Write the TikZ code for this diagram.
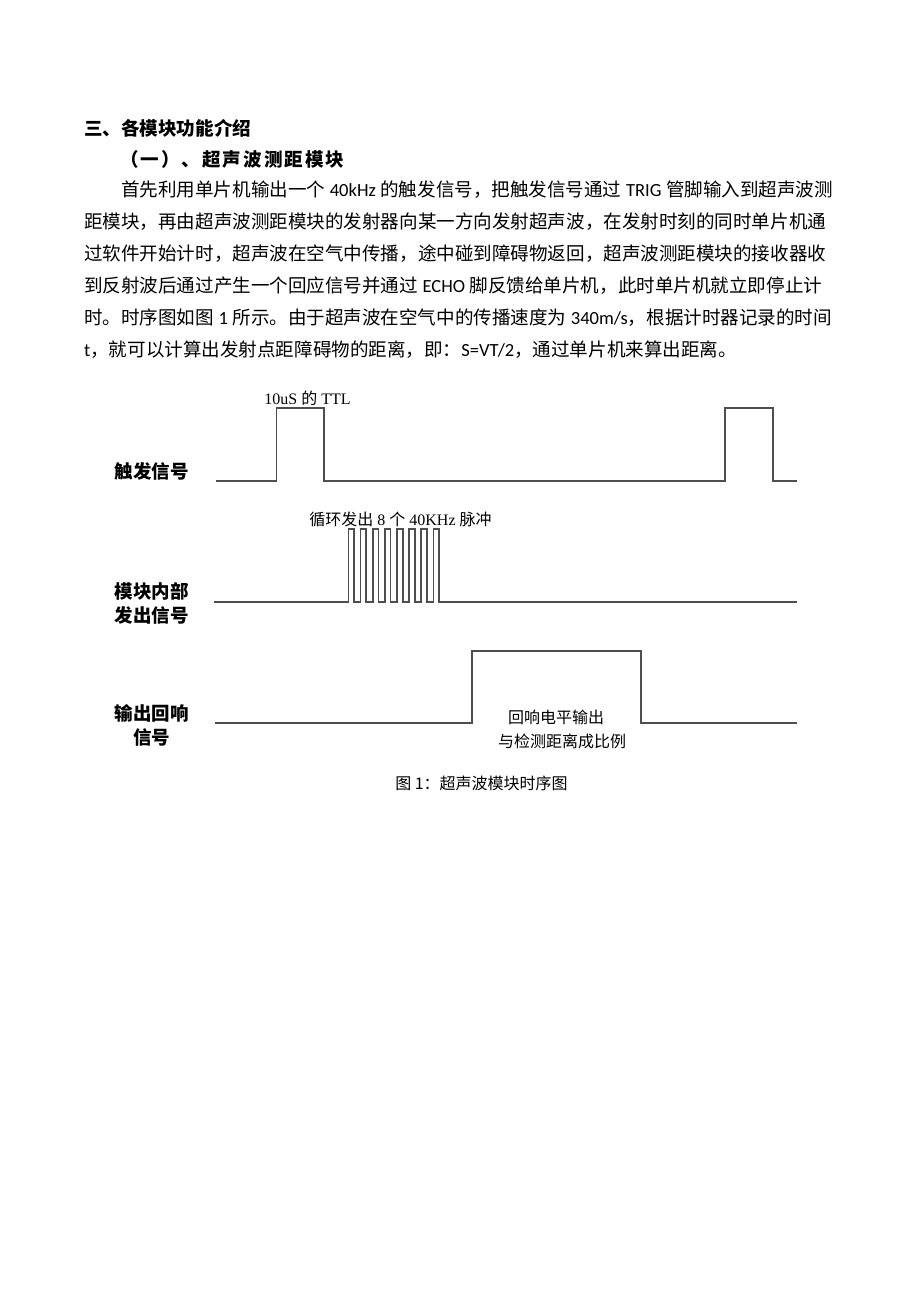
\documentclass[tikz,border=0pt]{standalone}
\usepackage{fontspec}
\setmainfont{Noto Sans CJK SC}
\newfontfamily\cjk{Noto Sans CJK SC}
\newfontfamily\lat{Carlito}
\newfontfamily\ser{Liberation Serif}
\XeTeXlinebreaklocale "zh"
\XeTeXlinebreakskip=0pt plus 3pt
\definecolor{wavegray}{RGB}{78,78,78}
\newcommand\gapx{\hskip2pt\relax}
\newcommand\lsp{\hspace{4.5pt}}
\begin{document}
\begin{tikzpicture}[x=1pt,y=-1pt,
  body/.style={anchor=west,inner sep=0pt,font=\fontsize{18.55}{18.55}\selectfont},
  head/.style={anchor=west,inner sep=0pt,font=\fontsize{18.55}{18.55}\selectfont\bfseries},
  sig/.style={inner sep=0pt,align=center,font=\fontsize{18.5}{24}\selectfont\bfseries},
  note/.style={inner sep=0pt,align=center,font=\fontsize{16}{16}\selectfont},
  small/.style={inner sep=0pt,font=\fontsize{16}{16}\selectfont},
  wave/.style={draw=wavegray,line width=1.7pt,line join=miter}]
\fill[white] (0,0) rectangle (920,1302);
\useasboundingbox (0,0) rectangle (920,1302);

% text
\node[head] (h1) at (84,128) {三、各模块功能介绍};
\node[head] (h2) at (120,159) {（\gapx 一\gapx ）\gapx 、\gapx 超\gapx 声\gapx 波\gapx 测\gapx 距\gapx 模\gapx 块};
\node[body] (l1) at (121,190) {\makebox[709pt][s]{首先利用单片机输出一个\lsp{\lat 40kHz}\lsp 的触发信号，把触发信号通过\lsp{\lat TRIG}\lsp 管脚输入到超声波测}};
\node[body] (l2) at (84,222) {\makebox[746pt][s]{距模块，再由超声波测距模块的发射器向某一方向发射超声波，在发射时刻的同时单片机通}};
\node[body] (l3) at (84,254) {\makebox[746pt][s]{过软件开始计时，超声波在空气中传播，途中碰到障碍物返回，超声波测距模块的接收器收}};
\node[body] (l4) at (84,286) {\makebox[746pt][s]{到反射波后通过产生一个回应信号并通过\lsp{\lat ECHO}\lsp 脚反馈给单片机，此时单片机就立即停止计}};
\node[body] (l5) at (84,318) {\makebox[746pt][s]{时。时序图如图\lsp{\lat 1}\lsp 所示。由于超声波在空气中的传播速度为\lsp{\lat 340m/s}，根据计时器记录的时间}};
\node[body] (l6) at (84,350) {{\lat t}，就可以计算出发射点距障碍物的距离，即：{\lat S=VT/2}，通过单片机来算出距离。};

% signal labels
\node[sig] (trig) at (151.5,471) {触发信号};
\node[sig] (mod) at (151.5,603) {模块内部\\发出信号};
\node[sig] (echo) at (151.5,725) {输出回响\\信号};

% waveforms
\draw[wave] (215.5,481) -- (276.5,481) -- (276.5,408) -- (324,408) -- (324,481)
  -- (725,481) -- (725,408) -- (773,408) -- (773,481) -- (797,481);
\draw[wave] (214,602) -- (348.5,602)
  foreach \k in {0,...,7} { -- ({348.5+12.14*\k},602) -- ({348.5+12.14*\k},529)
     -- ({354.2+12.14*\k},529) -- ({354.2+12.14*\k},602) }
  -- (797,602);
\draw[wave] (215,723) -- (472,723) -- (472,651) -- (641,651) -- (641,723) -- (797,723);

% notes
\node[small] (ttl) at (307.5,398) {{\ser 10uS }的{\ser\ TTL}};
\node[small] (burst) at (400.5,519) {循环发出{\ser\ 8 }个{\ser\ 40KHz }脉冲};
\node[note] (e1) at (556,717) {回响电平输出};
\node[note] (e2) at (562,741) {与检测距离成比例};
\node[note] (cap) at (481.5,783) {图 1：超声波模块时序图};
\end{tikzpicture}
\end{document}
